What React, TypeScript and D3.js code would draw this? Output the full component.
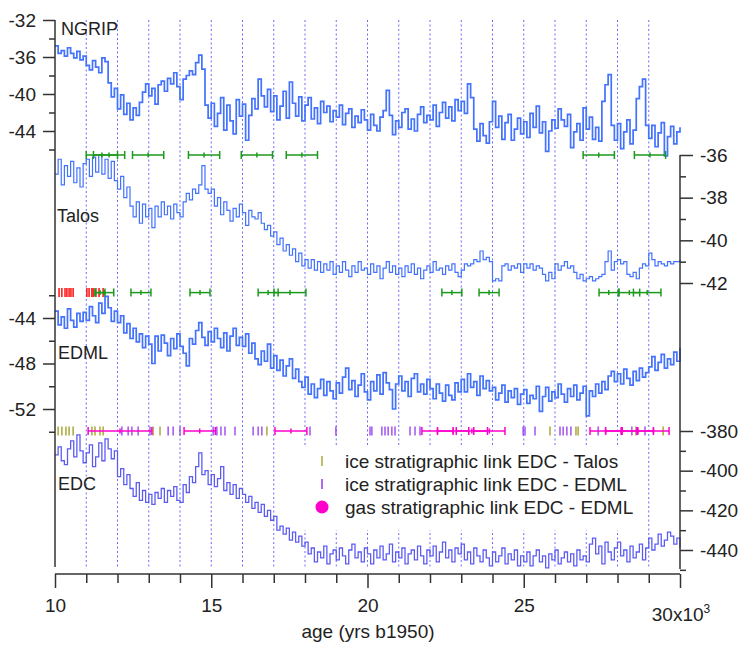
import React, { useEffect, useRef } from 'react';
import * as d3 from 'd3';

const W = 742, H = 645;
const START_AGE = 10; // kyr, first sample
const STEP = 0.1; // kyr between samples

// isotope records, one value every 0.1 kyr from 10 to 30 kyr
const ngrip = [
  -34.8, -35.6, -35.3, -35.9, -35.0, -35.6, -36.1, -35.4, -36.3, -35.9,
  -36.9, -37.4, -36.4, -37.1, -37.7, -36.1, -36.5, -38.8, -40.3, -39.4,
  -41.6, -40.1, -42.2, -41.0, -42.8, -41.5, -42.3, -40.9, -39.8, -38.9,
  -40.2, -39.4, -41.1, -39.0, -38.6, -39.7, -38.3, -38.9, -37.7, -39.2,
  -40.6, -38.4, -38.0, -37.5, -37.9, -36.6, -35.8, -37.3, -41.2, -42.6,
  -41.0, -43.5, -42.1, -40.4, -43.9, -41.2, -42.9, -44.3, -40.6, -42.4,
  -41.1, -45.0, -42.3, -40.5, -41.6, -38.4, -40.2, -41.4, -39.5, -41.9,
  -40.2, -42.8, -41.3, -39.7, -42.6, -38.7, -41.0, -42.4, -40.3, -42.9,
  -41.2, -40.4, -42.7, -41.5, -43.2, -40.8, -42.0, -41.3, -43.0, -41.8,
  -42.5, -41.2, -43.3, -42.1, -41.6, -43.6, -42.4, -43.1, -41.7, -42.8,
  -43.9, -42.2, -43.4, -44.0, -42.5, -41.8, -39.6, -42.3, -44.4, -42.9,
  -43.6, -42.0, -41.6, -43.8, -42.7, -44.0, -42.2, -41.4, -43.1, -42.3,
  -42.8, -41.2, -43.5, -42.0, -40.9, -42.6, -41.4, -42.9, -40.6, -41.8,
  -40.8, -42.1, -38.9, -40.4, -43.8, -45.1, -43.2, -44.5, -45.3, -43.0,
  -40.8, -43.6, -42.4, -44.9, -43.1, -42.2, -45.0, -43.8, -42.6, -44.3,
  -43.0, -44.7, -42.1, -43.6, -41.3, -44.2, -43.0, -46.2, -44.0, -42.8,
  -43.7, -41.6, -42.8, -43.5, -42.2, -45.8, -44.1, -43.2, -45.0, -41.5,
  -43.8, -42.5, -44.9, -43.6, -45.1, -40.8, -39.0, -37.9, -43.4, -45.0,
  -43.2, -45.9, -44.1, -42.8, -45.4, -43.9, -40.5, -39.2, -38.4, -43.4,
  -44.8, -43.4, -45.7, -44.2, -43.1, -46.7, -44.6, -43.5, -45.4, -44.1,
  -43.6,
];

const talos = [
  -36.9, -36.2, -37.4, -36.5, -37.0, -36.3, -37.3, -36.6, -37.5, -36.4,
  -36.2, -37.0, -36.1, -36.8, -36.0, -36.9, -36.2, -37.1, -36.3, -37.2,
  -37.6, -37.0, -38.0, -37.5, -38.4, -38.9, -38.2, -39.2, -38.3, -38.9,
  -38.5, -39.4, -38.4, -38.9, -38.2, -38.8, -38.4, -39.0, -38.3, -38.7,
  -38.9, -38.2, -37.8, -38.1, -37.6, -37.8, -37.4, -36.5, -37.6, -37.8,
  -37.6, -38.4, -38.0, -38.8, -38.2, -38.6, -39.1, -38.5, -38.9, -38.3,
  -38.7, -39.3, -38.6, -38.9, -39.0, -38.7, -39.2, -39.5, -39.3, -39.8,
  -39.6, -40.2, -39.9, -40.5, -40.2, -40.7, -40.4, -41.0, -40.6, -41.2,
  -40.9, -41.3, -40.9, -41.4, -41.0, -41.5, -41.1, -41.4, -41.0, -41.6,
  -41.2, -41.5, -41.0, -41.4, -41.7, -41.2, -41.5, -41.0, -41.4, -41.3,
  -41.6, -41.1, -41.5, -41.2, -41.8, -41.3, -41.0, -41.5, -41.2, -41.6,
  -41.3, -41.7, -41.2, -41.5, -41.1, -41.6, -41.3, -41.8, -41.4, -41.2,
  -41.5, -41.0, -41.4, -41.3, -41.6, -41.2, -41.4, -41.1, -41.5, -41.7,
  -41.4, -41.1, -41.2, -41.1, -40.9, -41.0, -40.5, -40.9, -40.8, -41.0,
  -41.9, -41.8, -41.9, -41.2, -41.1, -41.4, -41.2, -41.3, -41.1, -41.5,
  -41.1, -41.3, -41.1, -41.4, -41.2, -41.3, -41.6, -41.9, -41.5, -41.8,
  -41.1, -41.4, -41.2, -41.0, -41.3, -41.2, -41.5, -41.8, -41.6, -41.9,
  -41.8, -41.7, -41.9, -41.8, -41.7, -41.6, -41.0, -40.5, -41.4, -41.0,
  -40.9, -41.1, -41.0, -41.6, -41.7, -41.5, -41.8, -41.3, -41.1, -41.2,
  -40.6, -40.9, -41.2, -41.0, -41.1, -41.2, -41.0, -41.1, -41.0, -41.0,
  -40.9,
];

const edml = [
  -43.4, -44.6, -43.9, -44.9, -43.2, -44.2, -44.8, -43.6, -44.3, -43.5,
  -44.2, -43.0, -43.8, -44.4, -42.7, -43.6, -42.1, -43.1, -44.3, -43.4,
  -44.4, -43.8, -45.3, -44.5, -45.8, -44.9, -46.1, -45.4, -46.6, -45.6,
  -46.3, -48.0, -45.6, -46.9, -45.5, -46.2, -47.3, -45.8, -46.7, -45.4,
  -46.5, -47.1, -48.2, -45.8, -46.3, -45.1, -44.4, -45.7, -46.4, -45.2,
  -46.1, -44.9, -45.8, -46.6, -45.3, -46.9, -45.6, -44.9, -46.4, -45.7,
  -46.5, -45.4, -47.1, -46.2, -47.6, -48.1, -46.9, -47.8, -46.3, -48.4,
  -47.3, -48.6, -47.7, -49.1, -48.2, -47.6, -49.3, -48.5, -49.6, -50.1,
  -49.2, -50.7, -49.8, -51.0, -50.2, -49.4, -50.8, -49.6, -50.4, -51.1,
  -49.7, -50.6, -49.2, -48.4, -50.3, -49.5, -50.9, -49.9, -48.9, -50.5,
  -51.2, -49.6, -50.4, -49.0, -50.7, -48.8, -49.7, -50.3, -52.0, -49.8,
  -49.1, -50.4, -49.6, -50.9, -49.3, -48.9, -50.5, -49.8, -50.7, -49.4,
  -50.2, -51.1, -49.8, -50.6, -51.3, -49.9, -50.8, -51.2, -49.7, -50.5,
  -49.4, -50.5, -48.9, -50.1, -49.6, -50.8, -49.1, -50.2, -49.5, -50.4,
  -50.1, -51.2, -50.6, -49.9, -51.4, -50.4, -51.0, -50.2, -51.6, -50.7,
  -50.3, -51.5, -50.8, -51.1, -50.0, -52.2, -50.9, -50.1, -51.3, -50.5,
  -51.0, -49.8, -50.7, -51.4, -50.2, -50.9, -49.9, -51.2, -50.6, -50.0,
  -52.6, -50.4, -50.9, -49.8, -50.6, -49.6, -50.3, -49.1, -48.7, -49.6,
  -48.9, -49.8, -48.5, -49.3, -49.9, -48.7, -49.5, -48.4, -49.2, -48.8,
  -48.3, -47.4, -48.6, -47.9, -47.2, -48.4, -47.6, -48.1, -47.0, -47.8,
  -46.6,
];

const edc = [
  -392, -388, -395, -397, -389, -385, -393, -382, -390, -396,
  -391, -387, -398, -393, -386, -395, -384, -389, -394, -390,
  -403, -399, -407, -402, -409, -413, -406, -415, -410, -416,
  -412, -417, -411, -414, -409, -416, -410, -413, -408, -415,
  -416, -407, -411, -403, -406, -398, -391, -402, -400, -407,
  -402, -408, -404, -398, -410, -406, -412, -407, -414, -409,
  -412, -416, -413, -419, -416, -421, -417, -423, -420, -425,
  -423, -430, -428, -432, -429, -435, -431, -436, -433, -438,
  -436, -442, -439, -446, -441, -444, -438, -447, -442, -440,
  -445, -439, -443, -447, -440, -437, -444, -441, -446, -439,
  -442, -447, -440, -444, -438, -445, -442, -437, -446, -441,
  -444, -439, -447, -442, -440, -445, -438, -443, -447, -440,
  -443, -438, -446, -441, -436, -444, -440, -446, -439, -442,
  -437, -445, -441, -447, -439, -443, -446, -440, -444, -448,
  -441, -446, -443, -439, -447, -442, -445, -440, -448, -443,
  -446, -441, -448, -443, -440, -446, -443, -449, -442, -445,
  -440, -447, -444, -441, -446, -442, -448, -440, -445, -443,
  -446, -437, -434, -442, -438, -447, -436, -441, -445, -439,
  -436, -443, -440, -446, -438, -444, -441, -437, -445, -439,
  -434, -440, -437, -432, -438, -435, -431, -433, -437, -434,
  -439,
];

// stratigraphic links: [age, half-width] in kyr
const ngripTalosLinks = [[11.5, 0.5], [11.73, 0.5], [12.98, 0.5], [14.77, 0.5], [16.46, 0.5], [17.9, 0.5], [27.4, 0.5], [29.04, 0.5]];
const talosEdmlLinks = [[11.44, 0.16], [11.58, 0.3], [12.75, 0.32], [14.64, 0.32], [16.82, 0.32], [17.52, 0.51], [22.7, 0.32], [23.89, 0.32], [27.72, 0.31], [28.38, 0.33], [28.95, 0.44]];
const redLinks = [10.13, 10.22, 10.32, 10.38, 10.45, 10.51, 10.58, 11.02, 11.09, 11.18, 11.22, 11.31, 11.41, 11.54];
const edcTalosIce = [10.1, 10.22, 10.35, 10.45, 10.58, 11.18, 11.28, 11.44, 11.54, 13.14, 13.36, 16.78, 25.84, 26.67, 26.74, 28.59, 29.46];
const edcEdmlIce = [12.14, 12.34, 12.46, 12.66, 13.04, 13.62, 13.78, 14.0, 15.06, 15.18, 15.31, 15.44, 15.76, 16.34, 16.5, 16.62, 18.16, 18.99, 20.08, 20.14, 20.46, 20.56, 20.66, 20.78, 20.88, 21.36, 21.52, 21.68, 24.98, 25.04, 25.36, 26.16, 26.26, 26.38, 26.51, 27.38, 28.46, 28.88];
const edcEdmlGas = [[12.08, 1.02], [14.63, 0.5], [17.55, 0.51], [22.24, 0.5], [22.74, 0.5], [23.34, 0.5], [23.9, 0.5], [27.62, 0.5], [28.12, 0.5], [28.65, 0.5], [29.15, 0.5]];

const legendItems = [
  'ice stratigraphic link EDC - Talos',
  'ice stratigraphic link EDC - EDML',
  'gas stratigraphic link EDC - EDML',
];

const FONT = '"Liberation Sans", Arial, sans-serif';
const FS = 19;
const BLUE = '#4272ff';
const EDC_BLUE = '#5c5cf4';
const GREEN = '#1c9a1c';
const OLIVE = '#a8a83a';
const PURPLE = '#9438ee';
const MAGENTA = '#ff00cc';

export default function App() {
  const ref = useRef<SVGSVGElement>(null);

  useEffect(() => {
    const svg = d3.select(ref.current);
    svg.selectAll('*').remove();

    const x = d3.scaleLinear().domain([10, 30]).range([55, 680]);
    const yNgrip = d3.scaleLinear().domain([-32, -44]).range([20, 131]);
    const yTalos = d3.scaleLinear().domain([-36, -42]).range([155, 283]);
    const yEdml = d3.scaleLinear().domain([-44, -52]).range([318, 409]);
    const yEdc = d3.scaleLinear().domain([-380, -440]).range([431, 550]);

    svg.append('rect').attr('width', W).attr('height', H).attr('fill', '#fff');

    // dotted age grid
    svg.append('g').selectAll('line')
      .data(d3.range(11, 30))
      .enter().append('line')
      .attr('x1', d => x(d)).attr('x2', d => x(d))
      .attr('y1', 20).attr('y2', 567)
      .attr('stroke', '#6b6bff').attr('stroke-width', 1)
      .attr('stroke-dasharray', '2,2.5');

    const drawSeries = (vals: number[], y: any, color: string, w: number) => {
      const line = d3.line<number>()
        .x((d, i) => x(START_AGE + i * STEP))
        .y(d => y(d))
        .curve(d3.curveStepAfter);
      svg.append('path').attr('d', line(vals))
        .attr('fill', 'none').attr('stroke', color).attr('stroke-width', w);
    };
    drawSeries(ngrip, yNgrip, BLUE, 1.7);
    drawSeries(talos, yTalos, BLUE, 1.2);
    drawSeries(edml, yEdml, BLUE, 1.7);
    drawSeries(edc, yEdc, EDC_BLUE, 1.3);

    // horizontal error bars with caps and centre tick
    const drawBars = (links: number[][], yRow: number, color: string) => {
      const g = svg.append('g').attr('stroke', color).attr('stroke-width', 1.5);
      links.forEach(([a, hw]) => {
        g.append('line').attr('x1', x(a - hw)).attr('x2', x(a + hw)).attr('y1', yRow).attr('y2', yRow);
        [a - hw, a + hw].forEach(e => {
          g.append('line').attr('x1', x(e)).attr('x2', x(e)).attr('y1', yRow - 4).attr('y2', yRow + 4);
        });
        g.append('line').attr('x1', x(a)).attr('x2', x(a)).attr('y1', yRow - 2.5).attr('y2', yRow + 2.5);
      });
    };
    const drawTicks = (ages: number[], yRow: number, color: string, w: number) => {
      svg.append('g').selectAll('line').data(ages).enter().append('line')
        .attr('x1', d => x(d)).attr('x2', d => x(d))
        .attr('y1', yRow - 4.5).attr('y2', yRow + 4.5)
        .attr('stroke', color).attr('stroke-width', w);
    };

    drawBars(ngripTalosLinks, yTalos(-36), GREEN);
    drawTicks(redLinks, yTalos(-42.45), '#ff1010', 1.5);
    drawBars(talosEdmlLinks, yTalos(-42.45), GREEN);
    drawTicks(edcTalosIce, yEdc(-380), OLIVE, 1.5);
    drawTicks(edcEdmlIce, yEdc(-380), PURPLE, 1.3);
    drawBars(edcEdmlGas, yEdc(-380), MAGENTA);

    // legend
    const lg = svg.append('g');
    lg.append('rect').attr('x', 300).attr('y', 447).attr('width', 345).attr('height', 83).attr('fill', '#fff');
    legendItems.forEach((t, i) => {
      const cy = 461 + i * 23;
      if (i < 2) {
        lg.append('line').attr('x1', 322).attr('x2', 322).attr('y1', cy - 5).attr('y2', cy + 5)
          .attr('stroke', i === 0 ? OLIVE : PURPLE).attr('stroke-width', 1.5);
      } else {
        lg.append('circle').attr('cx', 322).attr('cy', cy).attr('r', 6.5).attr('fill', MAGENTA);
      }
      lg.append('text').attr('x', 345).attr('y', cy + 7).text(t)
        .attr('font-family', FONT).attr('font-size', FS).attr('fill', '#222');
    });

    // axes
    const AX = '#333';
    const styleAxis = (g: any) => {
      g.select('.domain').remove();
      g.selectAll('line').attr('stroke', AX).attr('stroke-width', 1.5);
      g.selectAll('text').attr('font-family', FONT).attr('font-size', FS).attr('fill', '#222');
    };
    const fmt = (d: any) => String(d);

    const addAxis = (axisFn: any, scale: any, major: number[], minor: number[], tx: number, size: number, pad: number) => {
      svg.append('g').attr('transform', `translate(${tx},0)`)
        .call(axisFn(scale).tickValues(major).tickSize(size).tickPadding(pad).tickFormat(fmt))
        .call(styleAxis);
      svg.append('g').attr('transform', `translate(${tx},0)`)
        .call(axisFn(scale).tickValues(minor).tickSize(6).tickFormat(() => ''))
        .call(styleAxis);
    };

    addAxis(d3.axisLeft, yNgrip, [-32, -36, -40, -44], [-34, -38, -42, -46], 55, 12, 7);
    addAxis(d3.axisLeft, yEdml, [-44, -48, -52], [-42, -46, -50, -54], 55, 12, 7);
    addAxis(d3.axisRight, yTalos, [-36, -38, -40, -42], [-37, -39, -41], 680, 13, 7);
    addAxis(d3.axisRight, yEdc, [-380, -400, -420, -440], [-390, -410, -430, -450], 680, 13, 7);

    svg.append('g').attr('transform', 'translate(0,574)')
      .call(d3.axisBottom(x).tickValues([10, 15, 20, 25, 30]).tickSize(14).tickPadding(11)
        .tickFormat((d: any) => (d === 30 ? '' : String(d))))
      .call(styleAxis);
    svg.append('g').attr('transform', 'translate(0,574)')
      .call(d3.axisBottom(x).tickValues(d3.range(11, 30).filter(d => d % 5 !== 0)).tickSize(9).tickFormat(() => ''))
      .call(styleAxis);

    // axis lines
    svg.append('line').attr('x1', 55).attr('x2', 55).attr('y1', 20).attr('y2', 567).attr('stroke', AX).attr('stroke-width', 1.5);
    svg.append('line').attr('x1', 680).attr('x2', 680).attr('y1', 155).attr('y2', 569).attr('stroke', AX).attr('stroke-width', 1.5);
    svg.append('line').attr('x1', 55).attr('x2', 680).attr('y1', 574).attr('y2', 574).attr('stroke', AX).attr('stroke-width', 1.5);

    const t30 = svg.append('text').attr('x', x(30) + 1).attr('y', 621).attr('text-anchor', 'middle')
      .attr('font-family', FONT).attr('font-size', FS).attr('fill', '#222');
    t30.append('tspan').text('30x10');
    t30.append('tspan').text('3').attr('font-size', 12).attr('dy', -8);

    svg.append('text').attr('x', 368).attr('y', 638).attr('text-anchor', 'middle')
      .attr('font-family', FONT).attr('font-size', FS).attr('fill', '#222')
      .text('age (yrs b1950)');

    // record names
    const names: [string, number, number][] = [['NGRIP', 61, 35], ['Talos', 57, 222], ['EDML', 58, 359], ['EDC', 58, 490]];
    names.forEach(([n, nx, ny]) => {
      svg.append('text').attr('x', nx).attr('y', ny).text(n)
        .attr('font-family', FONT).attr('font-size', 18).attr('fill', '#222');
    });
  }, []);

  return <svg ref={ref} width={W} height={H} style={{ position: 'absolute', left: 0, top: 0 }} />;
}
